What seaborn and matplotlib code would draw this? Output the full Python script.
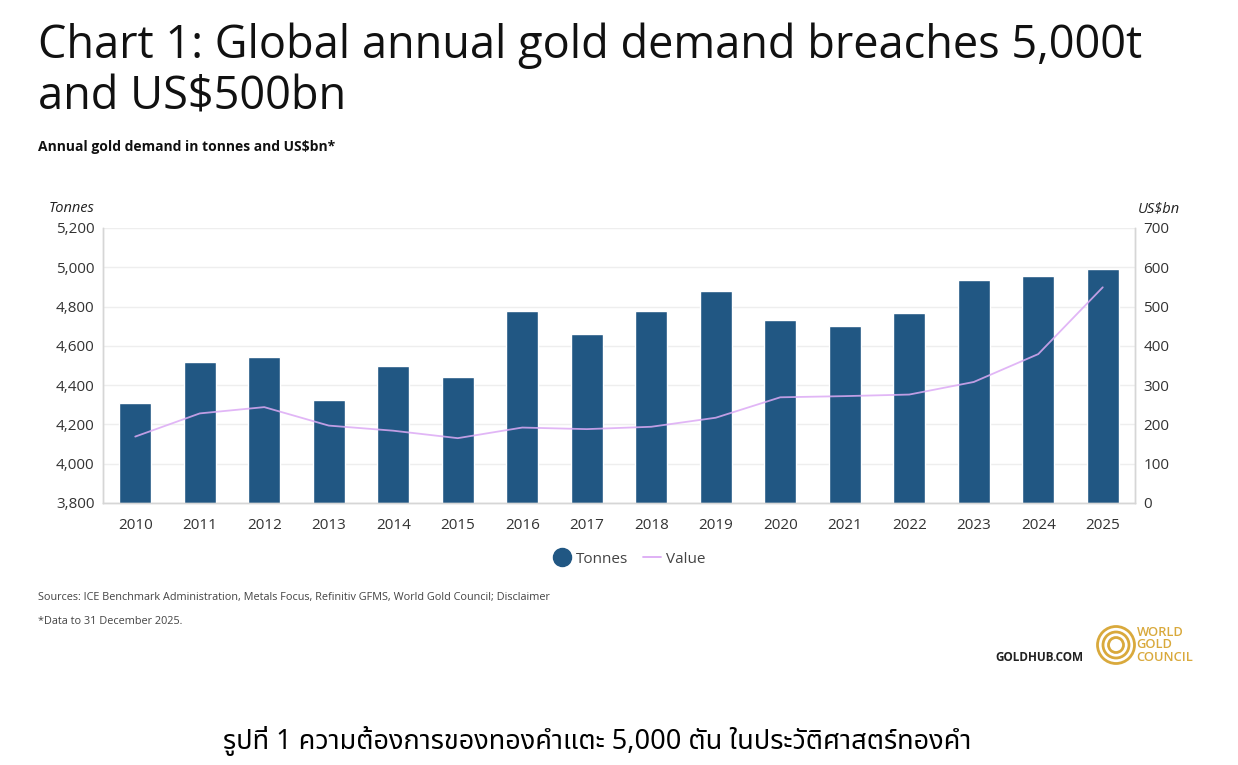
import seaborn as sns
import pandas as pd
import matplotlib
import matplotlib.pyplot as plt
from matplotlib.lines import Line2D
from matplotlib.patches import Circle

# Data
years = [str(y) for y in range(2010, 2026)]
tonnes = [4310, 4519, 4542, 4324, 4499, 4443, 4779, 4659,
          4776, 4881, 4732, 4703, 4766, 4937, 4954, 4993]
value_bn = [169, 228, 244, 197, 184, 165, 192, 188,
            194, 217, 269, 272, 276, 308, 379, 549]
left_ticks = [3800, 4000, 4200, 4400, 4600, 4800, 5000, 5200]
right_ticks = [0, 100, 200, 300, 400, 500, 600, 700]

df = pd.DataFrame({'Year': years, 'Tonnes': tonnes, 'Value': value_bn})

sns.set_style('white')
plt.rcParams['font.family'] = ['Open Sans', 'DejaVu Sans']

bar_color = '#215783'
line_color = '#dcaaf5'
gold = '#d9a93c'
text_grey = '#444444'

fig = plt.figure(figsize=(12.38, 7.65), dpi=100)
ax = fig.add_axes([0.0832, 0.3425, 0.8336, 0.3595])

sns.barplot(data=df, x='Year', y='Tonnes', color=bar_color, width=0.49,
            saturation=1, ax=ax, zorder=2)
ax.set_ylim(3800, 5200)
ax.set_yticks(left_ticks)
ax.set_yticklabels([f'{t:,}' for t in left_ticks])
ax.set_xlim(-0.5, len(years) - 0.5)
ax.grid(axis='y', color='#eeeeee', linewidth=1, zorder=0)
ax.set_axisbelow(True)
ax.set_xlabel('')
ax.set_ylabel('')

ax2 = ax.twinx()
sns.lineplot(data=df, x='Year', y='Value', color=line_color, linewidth=1.3,
             alpha=0.85, ax=ax2, sort=False)
ax2.set_ylim(0, 700)
ax2.set_yticks(right_ticks)
ax2.set_ylabel('')
ax2.set_xlim(-0.5, len(years) - 0.5)

for a in (ax, ax2):
    a.tick_params(axis='y', labelsize=11, colors='#333333', length=0, pad=6)
    a.tick_params(axis='x', labelsize=11, colors='#333333', length=0, pad=11)
    a.spines['top'].set_visible(False)
    for s in ['left', 'right', 'bottom']:
        a.spines[s].set_color('#d6d6d6')
        a.spines[s].set_linewidth(1)

# Titles
fig.text(0.031, 0.970, 'Chart 1: Global annual gold demand breaches 5,000t\nand US$500bn',
         fontsize=32.5, va='top', ha='left', color='#111111', linespacing=1.14)
fig.text(0.031, 0.808, 'Annual gold demand in tonnes and US$bn*',
         fontsize=10, fontweight='bold', va='center', ha='left', color='#111111')
fig.text(0.039, 0.727, 'Tonnes', fontsize=10.5, style='italic', va='center',
         ha='left', color='#222222')
fig.text(0.953, 0.727, 'US$bn', fontsize=10.5, style='italic', va='center',
         ha='right', color='#222222')

# Legend
handles = [Line2D([], [], marker='o', linestyle='none', markersize=13,
                  markerfacecolor=bar_color, markeredgecolor=bar_color),
           Line2D([], [], color=line_color, linewidth=1.3)]
fig.legend(handles, ['Tonnes', 'Value'], loc='center', bbox_to_anchor=(0.508, 0.269),
           ncol=2, frameon=False, fontsize=11, handlelength=1.2, handletextpad=0.3,
           columnspacing=1.0, labelcolor='#444444')

# Footer
fig.text(0.031, 0.219, 'Sources: ICE Benchmark Administration, Metals Focus, Refinitiv GFMS, '
         'World Gold Council; Disclaimer', fontsize=7.8, color=text_grey, va='center')
fig.text(0.031, 0.187, '*Data to 31 December 2025.', fontsize=7.8, color=text_grey,
         va='center')
fig.text(0.875, 0.141, 'GOLDHUB.COM', fontsize=8.5, fontweight='bold', color='#222222',
         ha='right', va='center')

# Logo rings (drawn in inches so they stay round)
cx, cy = 11.16, 7.65 - 6.45
for r in (0.185, 0.13, 0.075):
    fig.patches.append(Circle((cx, cy), r, transform=fig.dpi_scale_trans,
                              fill=False, edgecolor=gold, linewidth=2.0))
fig.text(0.918, 0.157, 'WORLD\nGOLD\nCOUNCIL', fontsize=9.3, color=gold,
         fontweight='semibold', ha='left', va='center', linespacing=0.92)

# Thai caption
fig.text(0.482, 0.032, 'รูปที่ 1 ความต้องการของทองคำแตะ 5,000 ตัน ในประวัติศาสตร์ทองคำ',
         fontsize=19.5, ha='center', va='center', color='black',
         family=['Noto Sans Thai', 'Sarabun', 'Tahoma', 'DejaVu Sans'])

fig.savefig('out.png', dpi=100)
